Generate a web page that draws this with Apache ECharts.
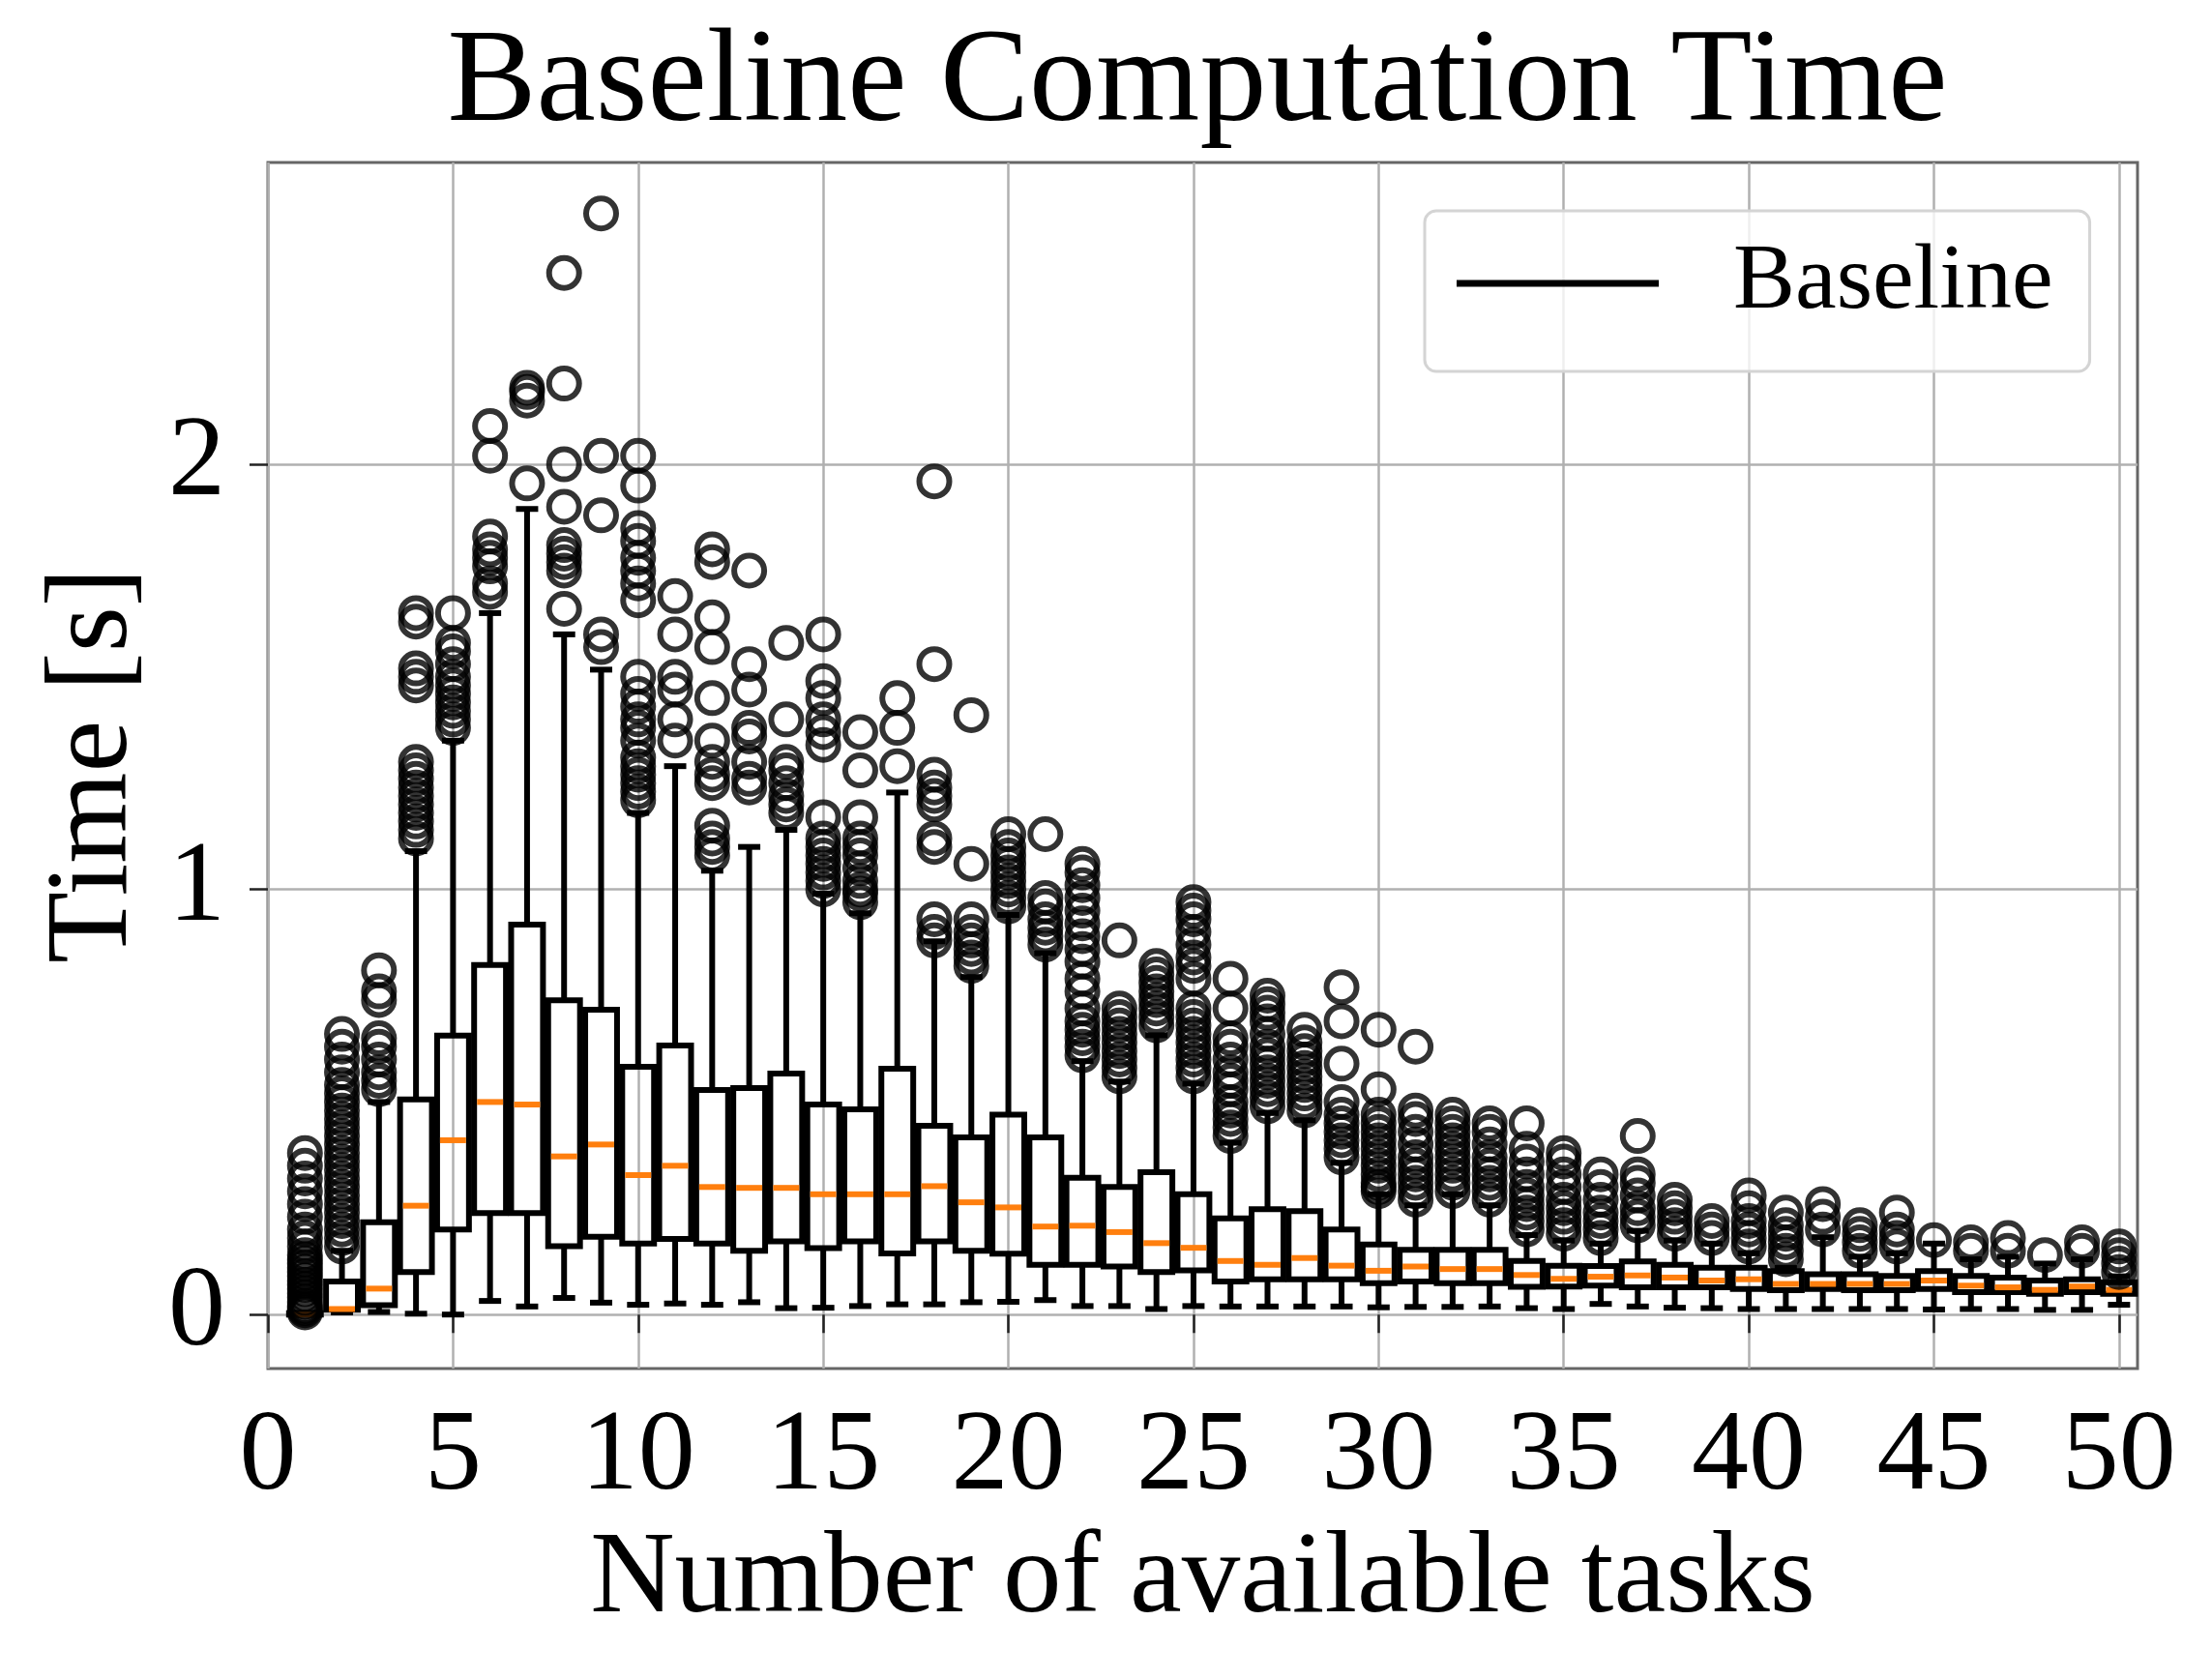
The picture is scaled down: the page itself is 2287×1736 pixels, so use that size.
<!DOCTYPE html>
<html>
<head>
<meta charset="utf-8">
<script src="https://cdn.jsdelivr.net/npm/echarts@6/dist/echarts.min.js"></script>
<style>
  html, body { margin: 0; padding: 0; background: #fff; }
  #chart { width: 2287px; height: 1736px; }
</style>
</head>
<body>
<div id="chart"></div>
<script>
// number of available tasks (box positions)
const taskCounts = [1, 2, 3, 4, 5, 6, 7, 8, 9, 10, 11, 12, 13, 14, 15, 16, 17, 18, 19, 20,
  21, 22, 23, 24, 25, 26, 27, 28, 29, 30, 31, 32, 33, 34, 35, 36, 37, 38, 39, 40,
  41, 42, 43, 44, 45, 46, 47, 48, 49, 50];

// box statistics [s]
const whiskerLow = [0, 0.005, 0.006, 0.002, 0.0, 0.032, 0.019, 0.039, 0.028, 0.023,
  0.026, 0.023, 0.029, 0.015, 0.016, 0.02, 0.024, 0.024, 0.029, 0.03,
  0.034, 0.02, 0.02, 0.013, 0.02, 0.019, 0.019, 0.019, 0.019, 0.017,
  0.018, 0.018, 0.019, 0.015, 0.013, 0.025, 0.019, 0.016, 0.015, 0.013,
  0.013, 0.013, 0.013, 0.013, 0.012, 0.013, 0.013, 0.011, 0.011, 0.023];
const q1 = [0, 0.011, 0.022, 0.1, 0.2, 0.239, 0.239, 0.161, 0.183, 0.167,
  0.178, 0.167, 0.15, 0.172, 0.156, 0.172, 0.144, 0.172, 0.15, 0.143,
  0.117, 0.117, 0.113, 0.1, 0.104, 0.078, 0.083, 0.083, 0.083, 0.074,
  0.078, 0.074, 0.074, 0.065, 0.066, 0.068, 0.064, 0.064, 0.064, 0.06,
  0.057, 0.06, 0.057, 0.057, 0.06, 0.053, 0.053, 0.049, 0.053, 0.049];
const medians = [0, 0.013, 0.061, 0.256, 0.41, 0.5, 0.494, 0.372, 0.4, 0.328,
  0.35, 0.3, 0.298, 0.298, 0.283, 0.283, 0.283, 0.302, 0.264, 0.252,
  0.207, 0.209, 0.194, 0.168, 0.157, 0.126, 0.117, 0.133, 0.115, 0.103,
  0.113, 0.107, 0.107, 0.093, 0.084, 0.089, 0.092, 0.087, 0.08, 0.083,
  0.072, 0.072, 0.072, 0.072, 0.08, 0.068, 0.064, 0.058, 0.066, 0.058];
const q3 = [0.003, 0.078, 0.217, 0.506, 0.656, 0.822, 0.917, 0.739, 0.717, 0.583,
  0.633, 0.528, 0.533, 0.567, 0.494, 0.483, 0.578, 0.444, 0.417, 0.47,
  0.417, 0.322, 0.3, 0.335, 0.283, 0.226, 0.248, 0.243, 0.2, 0.165,
  0.152, 0.152, 0.152, 0.126, 0.115, 0.114, 0.125, 0.117, 0.11, 0.11,
  0.102, 0.095, 0.095, 0.091, 0.102, 0.091, 0.087, 0.08, 0.083, 0.076];
const whiskerHigh = [0.004, 0.15, 0.5, 1.09, 1.35, 1.65, 1.895, 1.6, 1.517, 1.18,
  1.29, 1.044, 1.1, 1.14, 0.99, 0.944, 1.228, 0.878, 0.794, 0.94,
  0.85, 0.596, 0.548, 0.657, 0.543, 0.404, 0.474, 0.457, 0.357, 0.283,
  0.257, 0.283, 0.257, 0.187, 0.174, 0.167, 0.197, 0.174, 0.167, 0.144,
  0.11, 0.182, 0.136, 0.144, 0.167, 0.13, 0.136, 0.12, 0.13, 0.09];

// fliers per position
const outliers = [
  [0.005, 0.01, 0.015, 0.02, 0.03, 0.04, 0.05, 0.06, 0.07, 0.08, 0.09, 0.1, 0.11, 0.12, 0.13, 0.14, 0.16, 0.18, 0.2, 0.23, 0.26, 0.29, 0.32, 0.35, 0.38],
  [0.16, 0.18, 0.2, 0.22, 0.24, 0.26, 0.28, 0.3, 0.32, 0.34, 0.36, 0.38, 0.4, 0.42, 0.44, 0.46, 0.48, 0.5, 0.52, 0.54, 0.57, 0.6, 0.63, 0.66],
  [0.53, 0.55, 0.57, 0.6, 0.63, 0.65, 0.74, 0.76, 0.81],
  [1.12, 1.14, 1.16, 1.18, 1.2, 1.22, 1.24, 1.26, 1.28, 1.3, 1.48, 1.5, 1.52, 1.63, 1.65],
  [1.38, 1.4, 1.42, 1.44, 1.46, 1.48, 1.5, 1.53, 1.56, 1.58, 1.65],
  [1.7, 1.72, 1.76, 1.78, 1.8, 1.83, 2.02, 2.09],
  [1.955, 2.15, 2.17, 2.18],
  [1.66, 1.75, 1.77, 1.79, 1.81, 1.9, 2.0, 2.19, 2.45],
  [1.57, 1.6, 1.88, 2.02, 2.59],
  [1.21, 1.23, 1.25, 1.27, 1.29, 1.31, 1.35, 1.38, 1.4, 1.43, 1.46, 1.5, 1.68, 1.72, 1.75, 1.78, 1.82, 1.85, 1.95, 2.02],
  [1.35, 1.4, 1.47, 1.5, 1.6, 1.69],
  [1.08, 1.1, 1.12, 1.15, 1.25, 1.27, 1.3, 1.35, 1.45, 1.57, 1.64, 1.77, 1.8],
  [1.24, 1.26, 1.3, 1.36, 1.38, 1.47, 1.53, 1.75],
  [1.18, 1.2, 1.22, 1.25, 1.28, 1.3, 1.4, 1.58],
  [1.0, 1.02, 1.04, 1.06, 1.08, 1.1, 1.12, 1.17, 1.34, 1.37, 1.4, 1.45, 1.49, 1.6],
  [0.97, 0.99, 1.0, 1.02, 1.05, 1.08, 1.1, 1.12, 1.17, 1.28, 1.37],
  [1.29, 1.38, 1.45],
  [0.88, 0.9, 0.93, 1.1, 1.12, 1.2, 1.22, 1.24, 1.27, 1.53, 1.96],
  [0.82, 0.84, 0.86, 0.88, 0.9, 0.93, 1.06, 1.41],
  [0.96, 0.98, 1.0, 1.02, 1.04, 1.06, 1.08, 1.1, 1.13],
  [0.87, 0.89, 0.91, 0.93, 0.96, 0.98, 1.13],
  [0.61, 0.63, 0.65, 0.67, 0.69, 0.72, 0.76, 0.79, 0.83, 0.86, 0.89, 0.92, 0.95, 0.98, 1.01, 1.04, 1.06],
  [0.56, 0.58, 0.6, 0.62, 0.64, 0.66, 0.68, 0.7, 0.72, 0.88],
  [0.68, 0.7, 0.72, 0.74, 0.76, 0.78, 0.8, 0.82],
  [0.56, 0.58, 0.6, 0.62, 0.64, 0.66, 0.68, 0.7, 0.72, 0.79, 0.82, 0.84, 0.87, 0.9, 0.93, 0.95, 0.97],
  [0.42, 0.44, 0.46, 0.48, 0.5, 0.53, 0.55, 0.57, 0.6, 0.63, 0.65, 0.72, 0.79],
  [0.49, 0.51, 0.53, 0.55, 0.57, 0.59, 0.61, 0.63, 0.66, 0.69, 0.71, 0.73, 0.75],
  [0.48, 0.5, 0.52, 0.54, 0.56, 0.58, 0.6, 0.62, 0.64, 0.67],
  [0.37, 0.39, 0.41, 0.43, 0.45, 0.47, 0.5, 0.59, 0.69, 0.77],
  [0.29, 0.3, 0.31, 0.33, 0.35, 0.37, 0.39, 0.41, 0.43, 0.45, 0.47, 0.53, 0.67],
  [0.27, 0.29, 0.31, 0.33, 0.35, 0.37, 0.4, 0.43, 0.46, 0.48, 0.63],
  [0.29, 0.31, 0.33, 0.35, 0.37, 0.39, 0.41, 0.43, 0.45, 0.47],
  [0.27, 0.29, 0.31, 0.33, 0.35, 0.37, 0.4, 0.43, 0.45],
  [0.2, 0.22, 0.24, 0.26, 0.28, 0.3, 0.33, 0.36, 0.39, 0.45],
  [0.19, 0.21, 0.23, 0.25, 0.27, 0.3, 0.33, 0.36, 0.38],
  [0.18, 0.2, 0.22, 0.24, 0.27, 0.3, 0.33],
  [0.21, 0.23, 0.25, 0.28, 0.31, 0.33, 0.42],
  [0.19, 0.21, 0.23, 0.25, 0.27],
  [0.18, 0.2, 0.22],
  [0.16, 0.18, 0.2, 0.22, 0.25, 0.28],
  [0.13, 0.15, 0.17, 0.19, 0.21, 0.24],
  [0.2, 0.23, 0.26],
  [0.15, 0.17, 0.19, 0.21],
  [0.16, 0.18, 0.2, 0.24],
  [0.175],
  [0.15, 0.17],
  [0.15, 0.18],
  [0.14],
  [0.15, 0.17],
  [0.1, 0.12, 0.14, 0.16]
];

const xTicks = [0, 5, 10, 15, 20, 25, 30, 35, 40, 45, 50];
const yTicks = [0, 1, 2];

const FONT = '"Liberation Serif", "DejaVu Serif", serif';
const BOX_WIDTH = 0.86;
const CAP_WIDTH = 0.6;
const LW = 6;

const boxData = taskCounts.map((n, i) => [n, whiskerLow[i], q1[i], medians[i], q3[i], whiskerHigh[i]]);
const flierData = [];
taskCounts.forEach((n, i) => outliers[i].forEach(v => flierData.push([n, v])));

function renderBox(params, api) {
    let n = api.value(0);
    let lo = api.coord([n, api.value(1)]);
    let b1 = api.coord([n, api.value(2)]);
    let md = api.coord([n, api.value(3)]);
    let b3 = api.coord([n, api.value(4)]);
    let hi = api.coord([n, api.value(5)]);
    let bw = api.size([BOX_WIDTH, 0])[0];
    let cw = api.size([CAP_WIDTH, 0])[0];
    let x = lo[0];
    let seg = (x1, y1, x2, y2, color) => ({
        type: 'line', shape: {x1, y1, x2, y2},
        style: {stroke: color || '#000', lineWidth: LW}
    });
    return {
        type: 'group',
        children: [
            seg(x, lo[1], x, b1[1]),
            seg(x, b3[1], x, hi[1]),
            seg(x - cw / 2, lo[1], x + cw / 2, lo[1]),
            seg(x - cw / 2, hi[1], x + cw / 2, hi[1]),
            {type: 'rect', shape: {x: x - bw / 2, y: b3[1], width: bw, height: b1[1] - b3[1]},
             style: {fill: 'none', stroke: '#000', lineWidth: LW}},
            seg(x - bw / 2 + LW / 2, md[1], x + bw / 2 - LW / 2, md[1], '#ff7f0e')
        ]
    };
}

let chart = echarts.init(document.getElementById('chart'), null, {renderer: 'canvas'});
let options = {
    backgroundColor: '#fff',
    animation: false,
    graphic: [{
        type: 'text', x: 1238, y: 19,
        style: {
            text: 'Baseline Computation Time', fill: '#000',
            font: '138px ' + FONT, lineHeight: 138,
            textAlign: 'center', textVerticalAlign: 'top'
        }
    }],
    grid: {
        left: 277, right: 77, top: 168, bottom: 321,
        show: true, borderColor: '#666', borderWidth: 3, backgroundColor: 'transparent'
    },
    legend: {
        left: 1473, top: 218,
        padding: [27, 38, 43, 33],
        backgroundColor: 'rgba(255,255,255,0.8)',
        borderColor: '#d4d4d4', borderWidth: 3, borderRadius: 12,
        itemWidth: 209, itemHeight: 7,
        data: [{name: 'Baseline', icon: 'rect', itemStyle: {color: '#000'}}],
        textStyle: {fontFamily: FONT, fontSize: 96, lineHeight: 96, color: '#000', padding: [0, 0, 0, 72]}
    },
    xAxis: {
        type: 'value', min: 0, max: 50.5, interval: 5,
        name: 'Number of available tasks', nameLocation: 'middle', nameGap: 159,
        nameTextStyle: {fontFamily: FONT, fontSize: 121, lineHeight: 121, color: '#000'},
        axisLine: {show: false},
        axisTick: {show: true, customValues: xTicks, length: 19, lineStyle: {color: '#222', width: 2.5}},
        axisLabel: {customValues: xTicks, fontFamily: FONT, fontSize: 118, lineHeight: 118, color: '#000', margin: 34},
        splitLine: {show: true, lineStyle: {color: '#b0b0b0', width: 2.5}}
    },
    yAxis: {
        type: 'value', min: -0.127, max: 2.71,
        name: 'Time [s]', nameLocation: 'middle', nameGap: 118,
        nameTextStyle: {fontFamily: FONT, fontSize: 121, lineHeight: 121, color: '#000'},
        axisLine: {show: false},
        axisTick: {show: true, customValues: yTicks, length: 19, lineStyle: {color: '#222', width: 2.5}},
        axisLabel: {customValues: yTicks, fontFamily: FONT, fontSize: 118, lineHeight: 118, color: '#000', margin: 44},
        splitLine: {show: true, lineStyle: {color: '#b0b0b0', width: 2.5}}
    },
    series: [{
        name: 'Baseline',
        type: 'custom',
        renderItem: renderBox,
        itemStyle: {color: '#000'},
        encode: {x: 0, y: [1, 2, 3, 4, 5]},
        data: boxData,
        z: 2
    }, {
        name: 'fliers',
        type: 'scatter',
        symbol: 'circle',
        symbolSize: 31,
        itemStyle: {color: 'rgba(0,0,0,0)', borderColor: '#000', borderWidth: 6},
        data: flierData,
        z: 3
    }]
};
chart.setOption(options);
</script>
</body>
</html>
